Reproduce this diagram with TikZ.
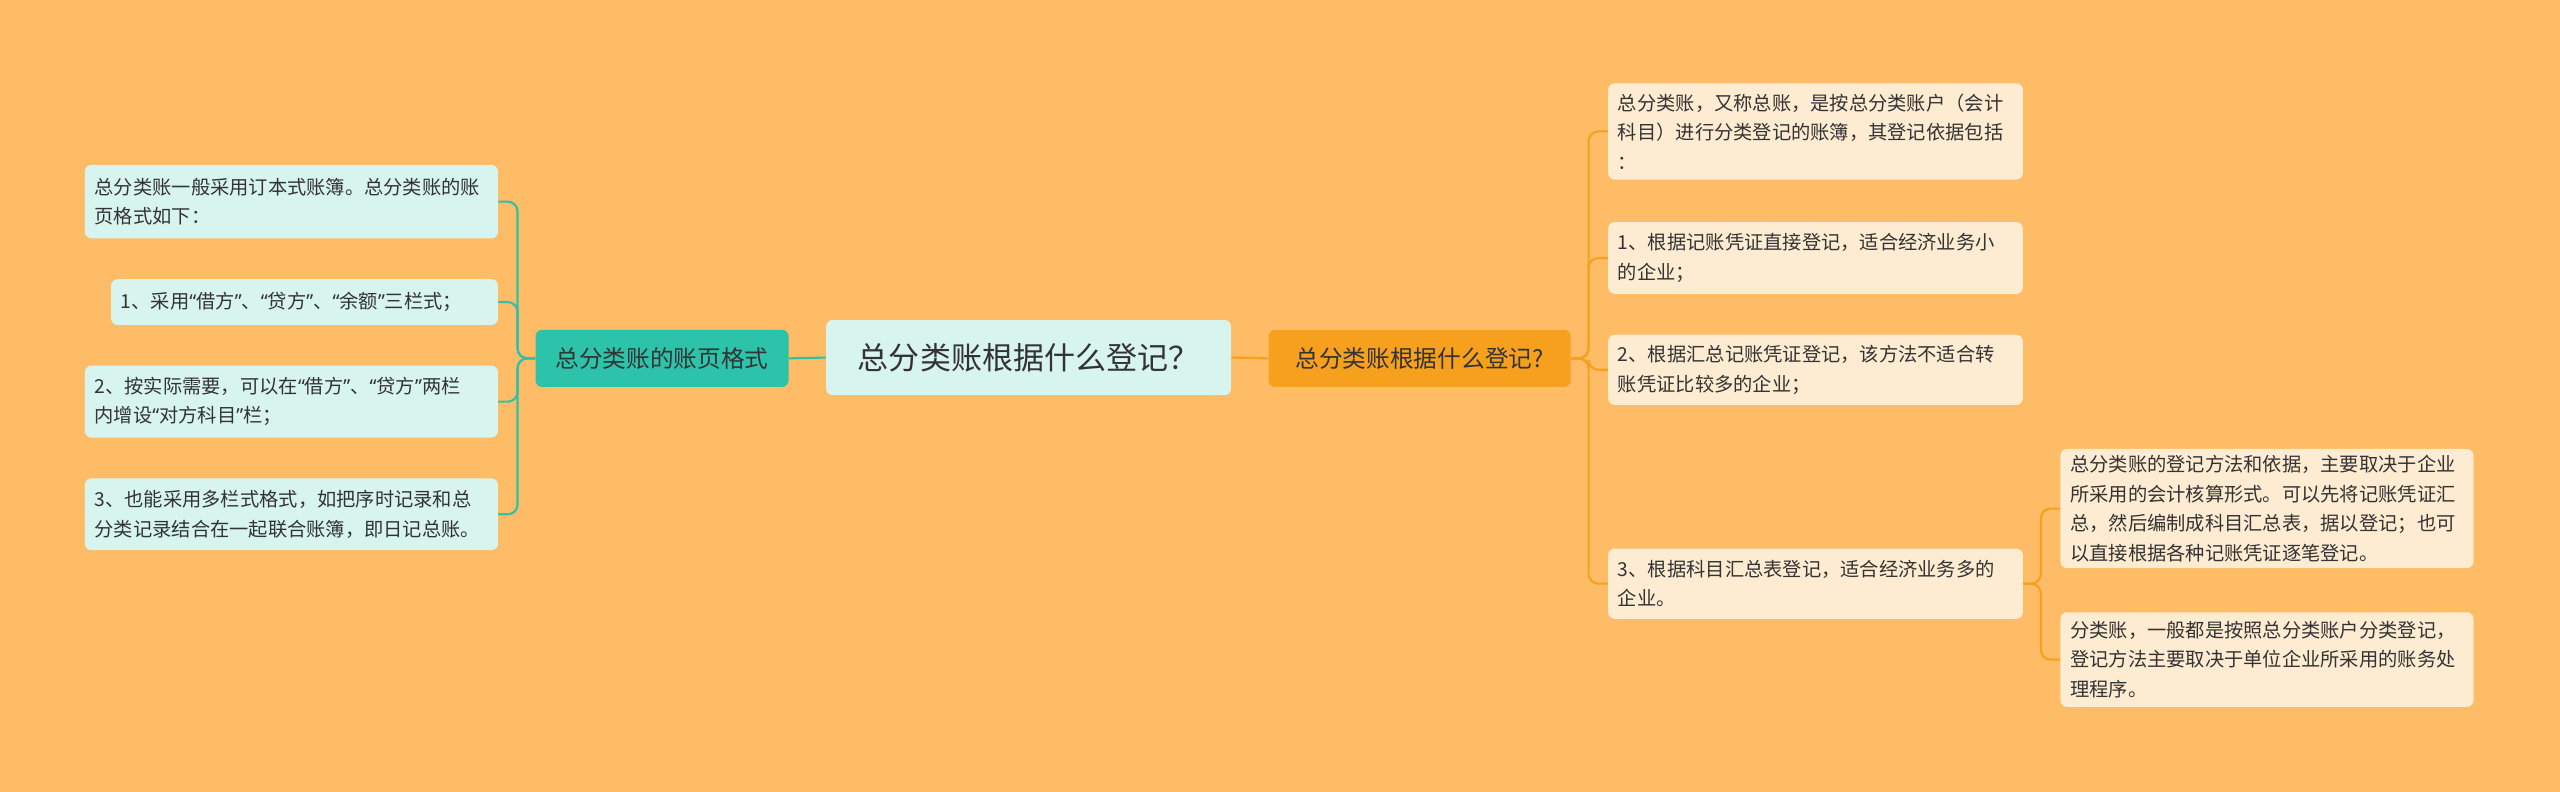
\documentclass[tikz,border=0pt]{standalone}
\usepackage{fontspec}
\setmainfont{Noto Sans CJK SC}
\newfontfamily\qfnt{Noto Sans}
\newcommand\myoq{{\qfnt “}}
\newcommand\mycq{{\qfnt ”}}
\definecolor{bg}{HTML}{FDBC65}
\definecolor{cyanl}{HTML}{D7F4EE}
\definecolor{teal}{HTML}{2DC2AA}
\definecolor{orng}{HTML}{F6A01E}
\definecolor{cream}{HTML}{FDEBD2}
\definecolor{txt}{HTML}{333333}
\tikzset{
 box/.style={rounded corners=4pt, inner xsep=6pt, inner ysep=0pt, text=txt, anchor=center},
 leafL/.style={box, fill=cyanl, align=left, font=\fontsize{11.8}{18}\selectfont},
 leafR/.style={box, fill=cream, align=left, font=\fontsize{11.8}{18}\selectfont},
 lineT/.style={draw=teal, line width=1.3pt, rounded corners=6pt},
 lineO/.style={draw=orng, line width=1.3pt, rounded corners=6pt},
}
\begin{document}
\begin{tikzpicture}[x=1pt,y=-1pt]
\fill[bg] (0,0) rectangle (1568,485);
\useasboundingbox (0,0) rectangle (1568,485);
\node[box, fill=cyanl, minimum width=248, minimum height=46, align=center, font=\fontsize{19}{22}\selectfont] (c) at (630,219) {总分类账根据什么登记？};
\node[box, fill=teal, minimum width=155, minimum height=35, align=center, font=\fontsize{14.5}{18}\selectfont] (lm) at (405.5,219.5) {总分类账的账页格式};
\node[box, fill=orng, minimum width=185, minimum height=35, align=center, font=\fontsize{14.5}{18}\selectfont] (rm) at (869.5,219.5) {总分类账根据什么登记?};
\draw[lineT] (c.west) -- (lm.east);
\draw[lineO] (c.east) -- (rm.east-|rm.west);
% left leaves
\node[leafL, text width=241, minimum height=45] (l1) at (178.5,123.5) {总分类账一般采用订本式账簿。总分类账的账\\页格式如下：};
\node[leafL, text width=225, minimum height=28] (l2) at (186.5,185) {1、采用\myoq 借方\mycq 、\myoq 贷方\mycq 、\myoq 余额\mycq 三栏式；};
\node[leafL, text width=241, minimum height=44] (l3) at (178.5,246) {2、按实际需要，可以在\myoq 借方\mycq 、\myoq 贷方\mycq 两栏\\内增设\myoq 对方科目\mycq 栏；};
\node[leafL, text width=241, minimum height=44] (l4) at (178.5,315) {3、也能采用多栏式格式，如把序时记录和总\\分类记录结合在一起联合账簿，即日记总账。};
\coordinate (lj) at (317,219.5);
\foreach \n in {l1,l2,l3,l4} \draw[lineT] (lm.west) -- (lj) |- (\n.east);
% right leaves
\node[leafR, text width=242, minimum height=59] (r1) at (1112,80.5) {总分类账，又称总账，是按总分类账户（会计\\科目）进行分类登记的账簿，其登记依据包括\\：};
\node[leafR, text width=242, minimum height=44] (r2) at (1112,158) {1、根据记账凭证直接登记，适合经济业务小\\的企业；};
\node[leafR, text width=242, minimum height=43] (r3) at (1112,226.5) {2、根据汇总记账凭证登记，该方法不适合转\\账凭证比较多的企业；};
\node[leafR, text width=242, minimum height=43] (r4) at (1112,357.5) {3、根据科目汇总表登记，适合经济业务多的\\企业。};
\coordinate (rj) at (973,219.5);
\foreach \n in {r1,r2,r3,r4} \draw[lineO] (rm.east) -- (rj) |- (\n.west);
\node[leafR, text width=241, minimum height=73] (s1) at (1388.5,311.5) {总分类账的登记方法和依据，主要取决于企业\\所采用的会计核算形式。可以先将记账凭证汇\\总，然后编制成科目汇总表，据以登记；也可\\以直接根据各种记账凭证逐笔登记。};
\node[leafR, text width=241, minimum height=58] (s2) at (1388.5,404) {分类账，一般都是按照总分类账户分类登记，\\登记方法主要取决于单位企业所采用的账务处\\理程序。};
\coordinate (sj) at (1250,357.5);
\foreach \n in {s1,s2} \draw[lineO] (r4.east) -- (sj) |- (\n.west);
\end{tikzpicture}
\end{document}
